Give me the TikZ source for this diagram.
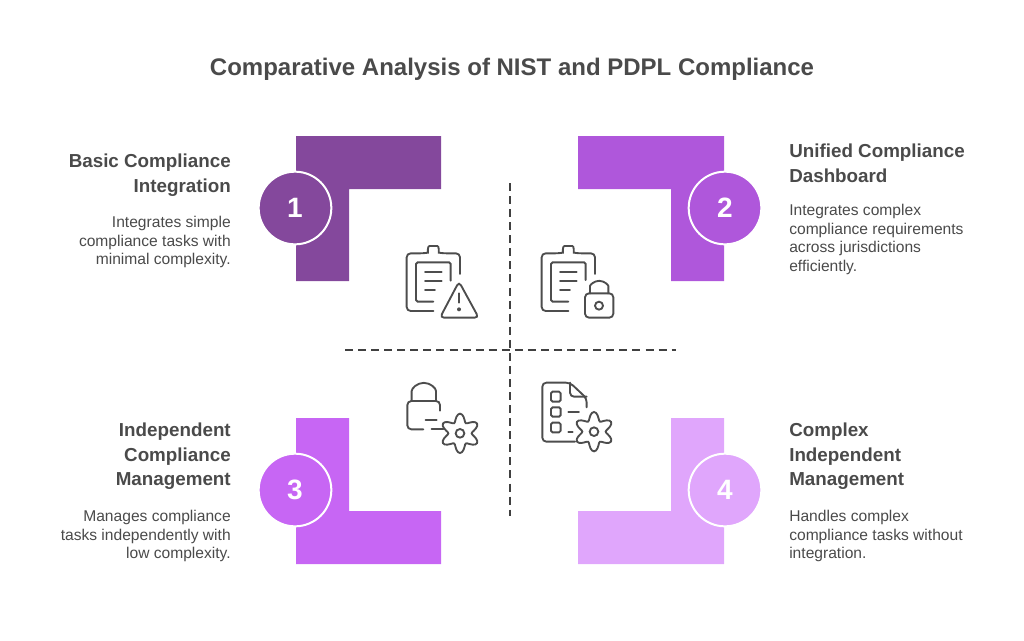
\documentclass[tikz,border=0pt]{standalone}
\usepackage{fontspec}
\setmainfont{Liberation Sans}
\definecolor{inkgrey}{HTML}{4A4A4A}
\definecolor{iconline}{HTML}{4D4D4D}
\definecolor{stepone}{HTML}{84489C}
\definecolor{steptwo}{HTML}{AF57DB}
\definecolor{stepthree}{HTML}{C766F4}
\definecolor{stepfour}{HTML}{E0A6FC}
\tikzset{
	titletext/.style={text=inkgrey, font=\fontsize{18}{22}\selectfont\bfseries, inner sep=0pt},
	headleft/.style={text=inkgrey, font=\fontsize{14.1}{18.4}\selectfont\bfseries, align=right, anchor=north east, inner sep=0pt},
	headright/.style={text=inkgrey, font=\fontsize{14.1}{18.4}\selectfont\bfseries, align=left, anchor=north west, inner sep=0pt},
	bodyleft/.style={text=inkgrey, font=\fontsize{11.7}{13.9}\selectfont, align=right, anchor=north east, inner sep=0pt},
	bodyright/.style={text=inkgrey, font=\fontsize{11.7}{13.9}\selectfont, align=left, anchor=north west, inner sep=0pt},
	badge/.style={circle, draw=white, line width=1.5pt, minimum size=54.5pt, inner sep=0pt, text=white, font=\fontsize{21}{25}\selectfont\bfseries},
	divider/.style={dashed, dash pattern=on 6pt off 3.8pt, draw=black!75, line width=1.1pt},
	icon/.style={draw=iconline, line width=1.4pt, rounded corners=3pt, line cap=round},
	iconbox/.style={icon, rounded corners=1.2pt},
	zoomed/.style={x=0.25pt, y=-0.25pt},
}
% gear of six lobes
\newcommand{\gearicon}[2]{
	\draw[icon, rounded corners=0pt] plot[smooth cycle, domain=0:354, samples=60] ({#1+(47+12*cos(6*(\x-90)))*cos(\x)},{#2+(47+12*cos(6*(\x-90)))*sin(\x)});
	\draw[icon] (#1,#2) circle (13);
}
\begin{document}
\begin{tikzpicture}[x=0.75pt, y=-0.75pt]
	\useasboundingbox (0,0) rectangle (1024,640);

	\node[titletext] (title) at (512,69) {Comparative Analysis of NIST and PDPL Compliance};

	% corner shapes
	\fill[stepone] (296,136) -- (441,136) -- (441,189) -- (349,189) -- (349,281) -- (296,281) -- cycle;
	\fill[steptwo] (578,136) -- (724,136) -- (724,281) -- (671,281) -- (671,189) -- (578,189) -- cycle;
	\fill[stepthree] (296,418) -- (349,418) -- (349,511) -- (441,511) -- (441,564) -- (296,564) -- cycle;
	\fill[stepfour] (671,418) -- (724,418) -- (724,564) -- (578,564) -- (578,511) -- (671,511) -- cycle;

	\node[badge, fill=stepone] (one) at (295,208) {1};
	\node[badge, fill=steptwo] (two) at (725,208) {2};
	\node[badge, fill=stepthree] (three) at (295,490) {3};
	\node[badge, fill=stepfour] (four) at (725,490) {4};

	% dashed cross
	\coordinate (crosstop) at (510,183);
	\coordinate (crossbottom) at (510,516);
	\coordinate (crossleft) at (345,350);
	\coordinate (crossright) at (676,350);
	\draw[divider] (crosstop) -- (crossbottom);
	\draw[divider] (crossleft) -- (crossright);

	% texts
	\node[headleft] (headone) at (231,154) {Basic Compliance\\Integration};
	\node[bodyleft] (bodyone) at (231,216) {Integrates simple\\compliance tasks with\\minimal complexity.};
	\node[headright] (headtwo) at (789,144) {Unified Compliance\\Dashboard};
	\node[bodyright] (bodytwo) at (789,204) {Integrates complex\\compliance requirements\\across jurisdictions\\efficiently.};
	\node[headleft] (headthree) at (231,423) {Independent\\Compliance\\Management};
	\node[bodyleft] (bodythree) at (231,510) {Manages compliance\\tasks independently with\\low complexity.};
	\node[headright] (headfour) at (789,423) {Complex\\Independent\\Management};
	\node[bodyright] (bodyfour) at (789,510) {Handles complex\\compliance tasks without\\integration.};

	% clipboard with warning
	\begin{scope}[shift={(390,230)}, zoomed]
		\draw[icon] (210,132) -- (210,70) -- (158,70) .. controls (146,68) and (148,48) .. (130,48) .. controls (112,48) and (114,68) .. (102,70) -- (50,70) -- (50,243) -- (130,243);
		\draw[iconbox] (130,215) -- (78,215) -- (78,97) -- (182,97) -- (182,152);
		\draw[icon] (105,125) -- (155,125);
		\draw[icon] (105,152) -- (155,152);
		\draw[icon] (105,180) -- (135,180);
		\draw[icon] (207,155) -- (266,263) -- (150,263) -- cycle;
		\draw[icon] (207,190) -- (207,218);
		\fill[iconline] (207,238) circle (6);
	\end{scope}

	% clipboard with lock
	\begin{scope}[shift={(390,230)}, zoomed]
		\draw[icon] (615,132) -- (615,70) -- (563,70) .. controls (551,68) and (553,48) .. (535,48) .. controls (517,48) and (519,68) .. (507,70) -- (455,70) -- (455,243) -- (535,243);
		\draw[iconbox] (535,215) -- (483,215) -- (483,97) -- (587,97) -- (587,150);
		\draw[icon] (510,125) -- (560,125);
		\draw[icon] (510,152) -- (560,152);
		\draw[icon] (510,180) -- (540,180);
		\draw[icon] (585,190) rectangle (670,263);
		\draw[icon] (600,190) -- (600,180) arc[start angle=180, end angle=360, radius=27.5] -- (655,190);
		\draw[icon] (627,227) circle (12);
	\end{scope}

	% lock with gear
	\begin{scope}[shift={(390,370)}, zoomed]
		\draw[icon] (65,92) -- (65,75) arc[start angle=180, end angle=360, radius=36.5] -- (138,92);
		\draw[icon] (150,122) -- (150,93) -- (52,93) -- (52,178) -- (100,178);
		\draw[icon] (107,150) -- (140,150);
		\draw[icon] (125,178) -- (160,178);
		\gearicon{210}{190}
	\end{scope}

	% document with gear
	\begin{scope}[shift={(390,370)}, zoomed]
		\draw[icon] (590,112) -- (590,85) -- (540,38) -- (457,38) -- (457,215) -- (555,215);
		\draw[icon] (540,38) -- (540,80) -- (590,80);
		\draw[iconbox] (483,65) rectangle (512,95);
		\draw[iconbox] (483,112) rectangle (512,140);
		\draw[iconbox] (483,158) rectangle (512,187);
		\draw[icon] (535,127) -- (567,127);
		\draw[icon] (535,185) -- (548,185);
		\gearicon{612}{185}
	\end{scope}
\end{tikzpicture}
\end{document}
